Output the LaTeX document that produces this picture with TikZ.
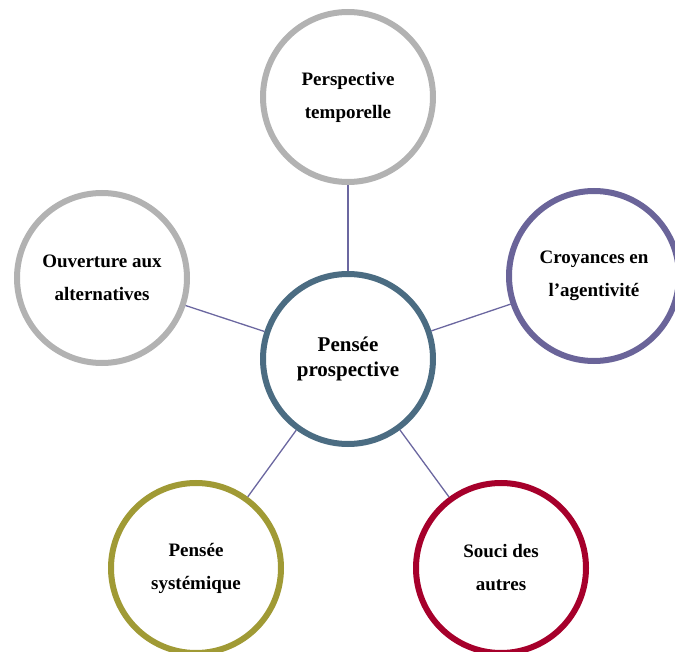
\documentclass[tikz,border=0pt]{standalone}
\usepackage{fontspec}
\setmainfont{Liberation Serif}
\definecolor{ctrblue}{HTML}{4B6C82}
\definecolor{lightgray}{HTML}{B2B2B2}
\definecolor{agentpurple}{HTML}{6A6499}
\definecolor{olive}{HTML}{A09A35}
\definecolor{darkred}{HTML}{A6002B}
\definecolor{linkcol}{HTML}{6B67A0}
\tikzset{
    bubble/.style={circle, draw, line width=6pt, minimum size=170pt, inner sep=0pt,
        align=center, font=\fontsize{19}{33}\selectfont\bfseries},
    link/.style={draw=linkcol, line width=1.3pt}
}
\begin{document}
\begin{tikzpicture}[x=1pt, y=-1pt]
    \useasboundingbox (0,0) rectangle (675,652);
    \node[bubble, draw=ctrblue, font=\fontsize{21}{25}\selectfont\bfseries] (ctr) at (348,359) {Pensée\\prospective};
    \node[bubble, draw=lightgray] (temp) at (348,97) {Perspective\\temporelle};
    \node[bubble, draw=agentpurple] (agent) at (594,276) {Croyances en\\l’agentivité};
    \node[bubble, draw=lightgray] (alt) at (102,278) {Ouverture aux\\alternatives};
    \node[bubble, draw=olive] (syst) at (196,568) {Pensée\\systémique};
    \node[bubble, draw=darkred] (autres) at (501,568) {Souci des\\autres};
    \foreach \n in {temp,agent,alt,syst,autres}
        \draw[link] (ctr) -- (\n);
\end{tikzpicture}
\end{document}
